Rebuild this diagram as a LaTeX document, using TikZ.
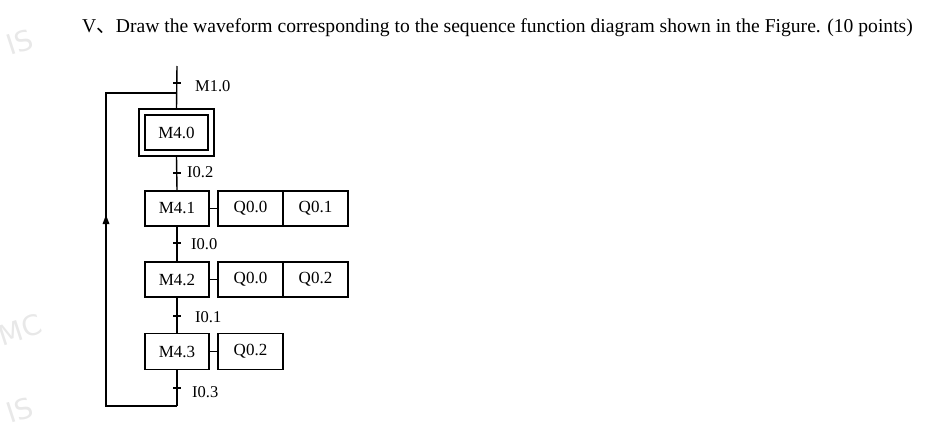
\documentclass[tikz,border=0pt]{standalone}
\usepackage{fontspec}
\setmainfont{Liberation Serif}
\newfontfamily\cjkfont{Noto Sans CJK SC}
\newfontfamily\wmfont{DejaVu Sans}
\usetikzlibrary{arrows.meta,decorations.markings}
\begin{document}
\begin{tikzpicture}[x=1pt,y=-1pt,
  every node/.style={font=\fontsize{17}{20}\selectfont},
  stepbox/.style={draw,line width=1.6pt,inner sep=0pt,minimum width=64pt,minimum height=35pt},
  actbox/.style={draw,line width=1.6pt,inner sep=0pt,minimum width=65pt,minimum height=35pt},
  wire/.style={line width=1.4pt},
  loopline/.style={line width=2.4pt},
  tick/.style={line width=2pt},
  lbl/.style={anchor=west,inner sep=0pt,font=\fontsize{16.5}{19}\selectfont},
  wm/.style={text=black!9,font=\wmfont\fontsize{28}{30}\selectfont,inner sep=0pt}]
\useasboundingbox (0,0) rectangle (950,442);
% watermarks
\node[wm,rotate=18] (wm1) at (20,42) {IS};
\node[wm,rotate=18] (wm2) at (20,330) {MC};
\node[wm,rotate=18] (wm3) at (20,410) {IS};
% title
\node[anchor=base west,inner sep=0pt,font=\fontsize{19.6}{22}\selectfont] (title) at (82,32) {V{\cjkfont 、}Draw the waveform corresponding to the sequence function diagram shown in the Figure. (10 points)};
% steps
\node[draw,line width=1.2pt,minimum width=75pt,minimum height=47pt,inner sep=0pt] (m40o) at (176.5,132.5) {};
\node[draw,line width=2.6pt,minimum width=63pt,minimum height=35pt,inner sep=0pt] (m40) at (176.5,132.5) {M4.0};
\node[stepbox] (m41) at (177,208.5) {M4.1};
\node[actbox] (a11) at (250.5,208.5) {Q0.0};
\node[actbox] (a12) at (315.5,208.5) {Q0.1};
\node[stepbox] (m42) at (177,279.5) {M4.2};
\node[actbox] (a21) at (250.5,279.5) {Q0.0};
\node[actbox] (a22) at (315.5,279.5) {Q0.2};
\node[stepbox,minimum height=36pt] (m43) at (177,351.5) {M4.3};
\node[actbox,minimum height=36pt] (a31) at (250.5,351.5) {Q0.2};
% coordinates
\coordinate (top) at (177,66);
\coordinate (t0) at (177,83);
\coordinate (t1) at (177,173);
\coordinate (t2) at (177,243);
\coordinate (t3) at (177,316);
\coordinate (t4) at (177,388);
\coordinate (j) at (177,93);
\coordinate (lt) at (106,93);
\coordinate (lb) at (106,406);
\coordinate (bot) at (177,406);
% vertical links
\draw[wire] (top) -- (m40o.north);
\draw[wire] (m40o.south) -- (m41.north);
\draw[wire] (m41.south) -- (m42.north);
\draw[wire] (m42.south) -- (m43.north);
\draw[wire] (m43.south) -- (bot);
% action links
\draw[wire] (m41.east) -- (a11.west);
\draw[wire] (m42.east) -- (a21.west);
\draw[wire] (m43.east) -- (a31.west);
% loop
\draw[loopline] (bot) -- (lb) -- (lt) -- (j);
\coordinate (arr) at (106,220);
\fill (arr) ++(0,-5) -- ++(3.5,9) -- ++(-7,0) -- cycle;
% ticks
\foreach \t in {t0,t1,t2,t3,t4} \draw[tick] ([xshift=-4pt]\t) -- ([xshift=4pt]\t);
% labels
\node[lbl] (l0) at (195,86) {M1.0};
\node[lbl] (l1) at (187,172) {I0.2};
\node[lbl] (l2) at (191,244) {I0.0};
\node[lbl] (l3) at (195,317) {I0.1};
\node[lbl] (l4) at (192,392) {I0.3};
\end{tikzpicture}
\end{document}
